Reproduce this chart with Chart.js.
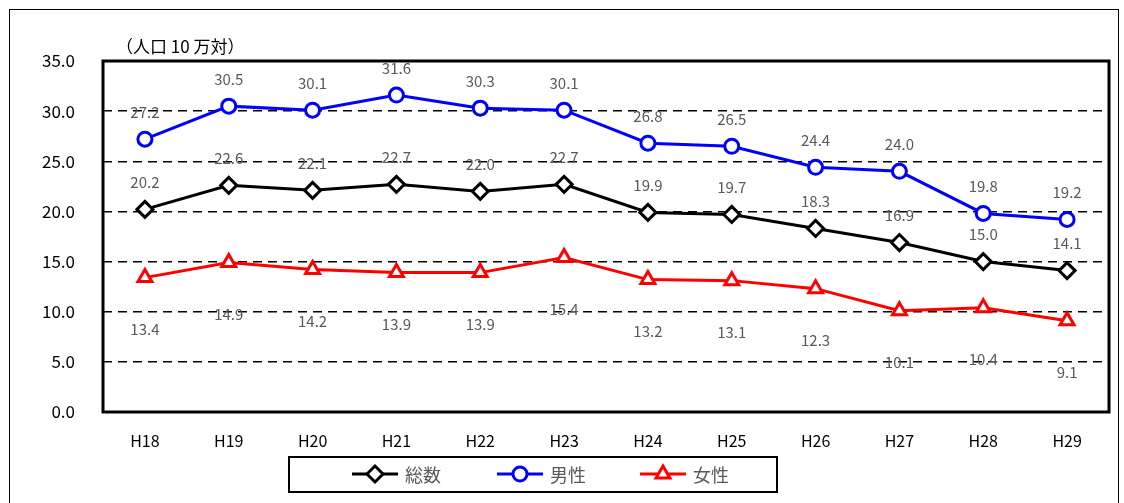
<!DOCTYPE html>
<html>
<head>
<meta charset="utf-8">
<script src="https://cdn.jsdelivr.net/npm/chart.js@4/dist/chart.umd.min.js"></script>
<style>
  html, body { margin: 0; padding: 0; background: #fff; }
  #wrap { position: relative; width: 1124px; height: 503px; }
  #frame { position: absolute; left: 9px; top: 9px; width: 1108px; height: 500px; border: 1px solid #000; }
  canvas { position: absolute; left: 0; top: 0; }
</style>
</head>
<body>
<div id="wrap">
  <div id="frame"></div>
  <canvas id="wykres" width="1124" height="503"></canvas>
</div>
<script>
// ── dane ──
const lata = ["H18", "H19", "H20", "H21", "H22", "H23", "H24", "H25", "H26", "H27", "H28", "H29"];
const sosu = [20.2, 22.6, 22.1, 22.7, 22.0, 22.7, 19.9, 19.7, 18.3, 16.9, 15.0, 14.1];
const dansei = [27.2, 30.5, 30.1, 31.6, 30.3, 30.1, 26.8, 26.5, 24.4, 24.0, 19.8, 19.2];
const josei = [13.4, 14.9, 14.2, 13.9, 13.9, 15.4, 13.2, 13.1, 12.3, 10.1, 10.4, 9.1];
const nazwySerii = ["総数", "男性", "女性"];
const jednostka = "（人口 10 万対）";

const FONT = "'Noto Sans CJK JP', 'DejaVu Sans', sans-serif";

// etykiety wartości nad / pod punktami
const etykiety = {
  id: "etykiety",
  afterDatasetsDraw(chart) {
    const ctx = chart.ctx;
    ctx.save();
    ctx.font = "15px " + FONT;
    ctx.fillStyle = "#595959";
    ctx.textAlign = "center";
    ctx.textBaseline = "middle";
    chart.data.datasets.forEach((ds, i) => {
      const meta = chart.getDatasetMeta(i);
      const off = i === 2 ? 52 : -27;
      meta.data.forEach((pt, j) => {
        ctx.fillText(ds.data[j].toFixed(1), pt.x, pt.y + off);
      });
    });
    ctx.restore();
  }
};

// ramka wykresu, jednostka i legenda w ramce
const ramka = {
  id: "ramka",
  beforeDatasetsDraw(chart) {
    const { ctx, chartArea: a } = chart;
    ctx.save();
    ctx.strokeStyle = "#000";
    ctx.lineWidth = 3;
    ctx.strokeRect(a.left, a.top, a.right - a.left, a.bottom - a.top);
    ctx.font = "17px " + FONT;
    ctx.fillStyle = "#000";
    ctx.textBaseline = "middle";
    ctx.textAlign = "left";
    ctx.fillText(jednostka, 116, 47);
    ctx.restore();
  },
  afterDraw(chart) {
    const ctx = chart.ctx;
    ctx.save();
    ctx.strokeStyle = "#000";
    ctx.lineWidth = 2;
    ctx.strokeRect(289, 457, 488, 35);
    const startX = [352, 497, 640];
    const y = 474;
    chart.data.datasets.forEach((ds, i) => {
      const x = startX[i];
      ctx.strokeStyle = ds.borderColor;
      ctx.lineWidth = 3;
      ctx.beginPath();
      ctx.moveTo(x, y);
      ctx.lineTo(x + 46, y);
      ctx.stroke();
      ctx.fillStyle = "#fff";
      Chart.helpers.drawPoint(ctx, {
        pointStyle: ds.pointStyle, radius: ds.pointRadius, borderWidth: 3
      }, x + 23, y);
      ctx.fillStyle = "#595959";
      ctx.font = "18px " + FONT;
      ctx.textAlign = "left";
      ctx.textBaseline = "middle";
      ctx.fillText(ds.label, x + 53, y + 1);
    });
    ctx.restore();
  }
};

function seria(label, data, kolor, styl, r) {
  return {
    label, data,
    borderColor: kolor,
    backgroundColor: "#fff",
    borderWidth: 3,
    pointStyle: styl,
    pointRadius: r,
    pointHoverRadius: r,
    pointBorderWidth: 3,
    pointBackgroundColor: "#fff",
    pointBorderColor: kolor,
    tension: 0
  };
}

new Chart(document.getElementById("wykres"), {
  type: "line",
  data: {
    labels: lata,
    datasets: [
      seria(nazwySerii[0], sosu, "#000000", "rectRot", 8),
      seria(nazwySerii[1], dansei, "#0000ff", "circle", 7),
      seria(nazwySerii[2], josei, "#ff0000", "triangle", 8)
    ]
  },
  options: {
    responsive: false,
    animation: false,
    layout: { padding: { top: 61, right: 15, left: 0, bottom: 0 } },
    plugins: { legend: { display: false }, tooltip: { enabled: false } },
    scales: {
      x: {
        offset: true,
        grid: { display: false, drawTicks: false },
        border: { display: false },
        ticks: { color: "#000", padding: 19, font: { family: FONT, size: 16 } },
        afterFit: s => { s.height = 91; }
      },
      y: {
        min: 0, max: 35,
        grid: { color: "#000", lineWidth: 1.5, drawTicks: false },
        border: { display: false, dash: [9, 6] },
        ticks: {
          stepSize: 5, color: "#000", padding: 28,
          font: { family: FONT, size: 17 },
          callback: v => v.toFixed(1)
        },
        afterFit: s => { s.width = 103; }
      }
    }
  },
  plugins: [ramka, etykiety]
});
</script>
</body>
</html>
